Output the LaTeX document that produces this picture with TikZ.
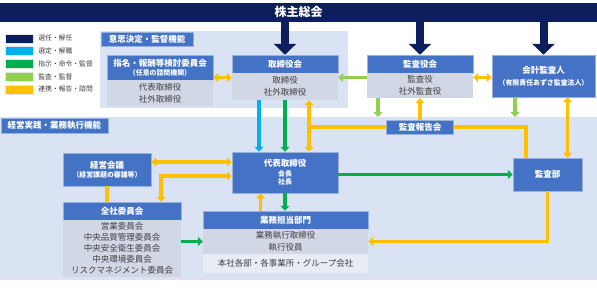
\documentclass[tikz,border=0pt]{standalone}
\usepackage{fontspec}
\setmainfont{Noto Sans CJK JP}
\usetikzlibrary{arrows.meta}

\definecolor{navy}{HTML}{0C1F5C}
\definecolor{selcyan}{HTML}{00B0F0}
\definecolor{ordgreen}{HTML}{00B050}
\definecolor{audgreen}{HTML}{92D050}
\definecolor{repyellow}{HTML}{FFC000}
\definecolor{boxblue}{HTML}{4472C4}
\definecolor{panelbg}{HTML}{DAE3F3}
\definecolor{bodygrey}{HTML}{D2D7E6}
\definecolor{bodylight}{HTML}{E9ECF5}
\definecolor{txtgrey}{HTML}{3F3F3F}

\newcommand{\bigfont}{\fontsize{12}{14}\selectfont\bfseries}
\newcommand{\boxfont}{\fontsize{8.5}{10.5}\selectfont}
\newcommand{\bodyfont}{\fontsize{8.5}{12}\selectfont}
\newcommand{\smallfont}{\fontsize{6.9}{8.5}\selectfont}
\newcommand{\legfont}{\fontsize{6.8}{8}\selectfont}

\begin{document}
\begin{tikzpicture}[x=1pt, y=-1pt, line join=miter,
  hdr/.style={fill=boxblue, draw=boxblue!55!white, line width=0.5pt, text=white,
    font=\boxfont\bfseries, align=center, inner sep=0pt},
  body/.style={fill=bodygrey, text=txtgrey, font=\bodyfont, align=center, inner sep=0pt},
  swatch/.style={minimum width=28pt, minimum height=9pt, inner sep=0pt, draw=white!80!gray, line width=0.4pt},
  legtext/.style={anchor=west, font=\legfont, text=txtgrey, inner sep=0pt},
  elect/.style={line width=8pt, draw=navy, -{Triangle[length=11pt,width=22pt]}},
  conn/.style={line width=3.6pt},
  onehead/.style={-{Triangle[length=5pt,width=9pt]}},
  twohead/.style={{Triangle[length=5pt,width=9pt]}-{Triangle[length=5pt,width=9pt]}}
]
  \useasboundingbox (0,0) rectangle (597,287);

  % pannelli
  \fill[panelbg] (100,31) rectangle (348,108);
  \fill[panelbg] (0,117) rectangle (597,280);

  % assemblea
  \node[hdr, fill=navy, draw=navy, font=\bigfont, minimum width=596pt, minimum height=18pt] (gms) at (298.5,12) {株主総会};

  % legenda
  \foreach \c/\t [count=\i] in {navy/選任・解任, selcyan/選定・解職, ordgreen/指示・命令・監督, audgreen/監査・監督, repyellow/連携・報告・諮問}{
    \node[swatch, fill=\c] (sw\i) at (19,{25.4+12.8*\i}) {};
    \node[legtext] at ([xshift=5pt]sw\i.east) {\t};
  }

  % etichette
  \node[hdr, font=\boxfont\bfseries, minimum width=92pt, minimum height=14pt] (lblup) at (147,39) {意思決定・監督機能};
  \node[hdr, font=\boxfont\bfseries, minimum width=107pt, minimum height=15pt] (lbldown) at (54.5,125.5) {経営実践・業務執行機能};

  % organi di vertice
  \node[hdr, minimum width=106pt, minimum height=25pt] (nomH) at (160,67.5)
    {指名・報酬等検討委員会\\[-1pt]{\smallfont （任意の諮問機関）}};
  \node[body, minimum width=106pt, minimum height=26pt] (nomB) at (160,93) {代表取締役\\社外取締役};
  \node[hdr, minimum width=106pt, minimum height=18pt] (bodH) at (285,64) {取締役会};
  \node[body, minimum width=106pt, minimum height=27pt] (bodB) at (285,86.5) {取締役\\社外取締役};
  \node[hdr, minimum width=106pt, minimum height=18pt] (asbH) at (420,64) {監査役会};
  \node[body, minimum width=106pt, minimum height=25pt] (asbB) at (420,85.5) {監査役\\社外監査役};
  \node[hdr, minimum width=103pt, minimum height=42pt] (auditor) at (543.5,76)
    {会計監査人\\[2pt]{\smallfont （有限責任あずさ監査法人）}};
  \node[hdr, minimum width=67pt, minimum height=14pt] (report) at (420,127) {監査報告会};

  % esecutivo
  \node[hdr, minimum width=106pt, minimum height=41pt] (ceo) at (285,172.5)
    {代表取締役\\[-1pt]{\smallfont 会長}\\[-2pt]{\smallfont 社長}};
  \node[hdr, minimum width=88pt, minimum height=33pt] (mtg) at (107,169.5)
    {経営会議\\[-1pt]{\smallfont （経営課題の審議等）}};
  \node[hdr, minimum width=118pt, minimum height=18pt] (cmtH) at (122,211) {全社委員会};
  \node[body, font=\fontsize{8.5}{11}\selectfont, minimum width=118pt, minimum height=57pt] (cmtB) at (122,248.5)
    {営業委員会\\中央品質管理委員会\\中央安全衛生委員会\\中央環境委員会\\リスクマネジメント委員会};
  \node[hdr, minimum width=165pt, minimum height=18pt] (opsH) at (285.5,220) {業務担当部門};
  \node[body, minimum width=165pt, minimum height=25pt] (opsB) at (285.5,241.5) {業務執行取締役\\執行役員};
  \node[body, fill=bodylight, minimum width=165pt, minimum height=19pt] (opsL) at (285.5,263.5) {本社各部・各事業所・グループ会社};
  \node[hdr, minimum width=69pt, minimum height=33pt] (iad) at (547.5,174.5) {監査部};

  % livelli
  \coordinate (rowA) at (0,77.5);
  \coordinate (rowB) at (0,117);
  \coordinate (rowC) at (0,162);
  \coordinate (rowD) at (0,176);

  % nomina
  \foreach \n in {bodH, asbH, auditor}
    \draw[elect] (gms.south -| \n.north) -- (\n.north);

  % frecce vertice
  \draw[conn, draw=repyellow, twohead] (nomH.east |- rowA) -- (bodB.west |- rowA);
  \draw[conn, draw=audgreen, onehead] (asbB.west |- rowA) -- (bodB.east |- rowA);
  \draw[conn, draw=repyellow, twohead] (asbB.east |- rowA) -- (auditor.west |- rowA);
  \draw[conn, draw=audgreen, onehead] ([xshift=-42pt]asbB.south) -- ([xshift=-42pt]asbB.south |- rowB);
  \draw[conn, draw=audgreen, onehead] ([xshift=-28.5pt]auditor.south) -- ([xshift=-28.5pt]auditor.south |- rowB);
  \draw[conn, draw=repyellow, onehead] (report.north) -- (asbB.south);

  % consiglio - presidenza
  \draw[conn, draw=selcyan, onehead] ([xshift=-26pt]bodB.south) -- ([xshift=-26pt]ceo.north);
  \draw[conn, draw=ordgreen, onehead] (bodB.south) -- (ceo.north);
  \draw[conn, draw=repyellow, twohead] ([xshift=24pt]bodB.south) coordinate (jn) -- ([xshift=24pt]ceo.north);
  \draw[conn, draw=repyellow] (report.west) -- (report.west -| jn);
  \draw[conn, draw=repyellow] (report.east) -| ([xshift=-21.5pt]iad.north);
  \draw[conn, draw=repyellow, twohead] ([xshift=20pt]iad.north) -- ([xshift=20pt]iad.north |- auditor.south);

  % esecutivo
  \draw[conn, draw=ordgreen, onehead] (ceo.east |- iad.west) -- (iad.west);
  \draw[conn, draw=repyellow, twohead] (mtg.east |- rowC) -- (ceo.west |- rowC);
  \draw[conn, draw=repyellow, twohead] ([xshift=39pt]cmtH.north) |- (ceo.west |- rowD);
  \draw[conn, draw=repyellow] (mtg.south) -- (mtg.south |- cmtH.north);
  \draw[conn, draw=ordgreen, onehead] (opsB.west -| cmtB.east) -- (opsB.west);
  \draw[conn, draw=repyellow, onehead] ([xshift=-25pt]opsH.north) -- ([xshift=-25pt]opsH.north |- ceo.south);
  \draw[conn, draw=ordgreen, onehead] (ceo.south) -- (ceo.south |- opsH.north);
  \draw[conn, draw=repyellow, onehead] (iad.south) |- (opsB.east);
\end{tikzpicture}
\end{document}
